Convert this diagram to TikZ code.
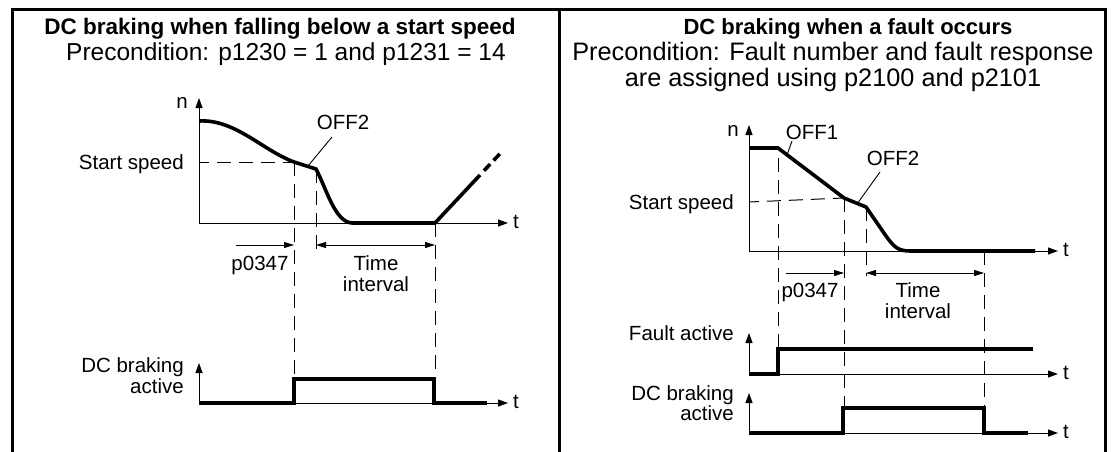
\documentclass[tikz,border=0pt]{standalone}
\usepackage{fontspec}
\setmainfont{Liberation Sans}
\usetikzlibrary{arrows.meta}
\begin{document}
\begin{tikzpicture}[x=1pt,y=-1pt,
  frame/.style={line width=2.2pt},
  axis/.style={line width=1pt, -{Triangle[length=10pt,width=7pt]}},
  sig/.style={line width=3.6pt, line join=miter},
  guide/.style={line width=1pt, dash pattern=on 14pt off 8pt},
  dim/.style={line width=1pt, -{Triangle[length=10pt,width=6pt]}},
  dimboth/.style={line width=1pt, {Triangle[length=10pt,width=6pt]}-{Triangle[length=10pt,width=6pt]}},
  lbl/.style={inner sep=0pt, font=\fontsize{20.5}{23}\selectfont},
  ttlL/.style={inner sep=0pt, font=\fontsize{22.5}{26}\selectfont\bfseries},
  ttlR/.style={inner sep=0pt, font=\fontsize{22}{26}\selectfont\bfseries},
  subL/.style={inner sep=0pt, font=\fontsize{24.5}{28}\selectfont},
  subR/.style={inner sep=0pt, font=\fontsize{25.3}{29}\selectfont},
  leader/.style={line width=0.9pt},
]
\useasboundingbox (0,0) rectangle (1111,452);
% frame
\coordinate (FLb) at (12.5,452); \coordinate (FLt) at (12.5,9.5);
\coordinate (FRt) at (1105.5,9.5); \coordinate (FRb) at (1105.5,452);
\coordinate (FMt) at (559.5,9.5); \coordinate (FMb) at (559.5,452);
\draw[frame] (FLb) -- (FLt) -- (FRt) -- (FRb);
\draw[frame] (FMt) -- (FMb);

% titles
\node[ttlL, anchor=base] (titleL) at (280,35) {DC braking when falling below a start speed};
\node[subL, anchor=base] (subL) at (286,61) {Precondition: p1230 = 1 and p1231 = 14};
\node[ttlR, anchor=base] (titleR) at (848,35) {DC braking when a fault occurs};
\node[subR, anchor=base] (subR1) at (833,61) {Precondition: Fault number and fault response};
\node[subR, anchor=base] (subR2) at (833,86) {are assigned using p2100 and p2101};

% ================= LEFT PANEL =================
\coordinate (LO) at (199,223); \coordinate (LN) at (199,98); \coordinate (LT) at (508,223);
\coordinate (LSs) at (199,162);
\coordinate (LA) at (294,162); \coordinate (LB) at (316,169);
\coordinate (LC) at (352,223); \coordinate (LD) at (435,223); \coordinate (LE) at (480,175);
\coordinate (LF) at (484,170.7); \coordinate (LG) at (502,151.5);
\coordinate (LAd) at (294,379); \coordinate (LBd) at (316,250); \coordinate (LDd) at (435,379);
\coordinate (LPs) at (236,245); \coordinate (LPe) at (294,245);
\coordinate (LIs) at (316,245); \coordinate (LIe) at (435,245);
\coordinate (LO2) at (199,403); \coordinate (LN2) at (199,363); \coordinate (LT2) at (508,403);
\coordinate (LP1) at (294,403); \coordinate (LP2) at (294,379); \coordinate (LP3) at (434,379);
\coordinate (LP4) at (434,403); \coordinate (LP5) at (487,403);

\draw[axis] (LO) -- (LN);
\draw[axis] (LO) -- (LT);
\draw[guide, dash phase=4pt] (LSs) -- (LA);
\draw[guide] (LA) -- (LAd);
\draw[guide] (LB) -- (LBd);
\draw[guide] (LD) -- (LDd);
\draw[sig] (199,121) .. controls (235,119) and (262,150) .. (LA) -- (LB)
  .. controls (327,190) and (335,222) .. (LC) -- (LD) -- (LE);
\draw[sig, dash pattern=on 9pt off 5pt] (LF) -- (LG);
\draw[dim] (LPs) -- (LPe);
\draw[dimboth] (LIs) -- (LIe);
\draw[axis] (LO2) -- (LN2);
\draw[axis] (LO2) -- (LT2);
\draw[sig] (LO2) -- (LP1) -- (LP2) -- (LP3) -- (LP4) -- (LP5);

\node[lbl, anchor=base] (nL) at (182,108) {n};
\node[lbl, anchor=west] (tL) at (513,222) {t};
\node[lbl, anchor=base east] (ssL) at (184,169) {Start speed};
\node[lbl, anchor=base] (offL) at (343,129) {OFF2};
\coordinate (offLa) at (332,137); \coordinate (offLb) at (308,166);
\draw[leader] (offLa) -- (offLb);
\node[lbl, anchor=base] (pL) at (260,270) {p0347};
\node[lbl, anchor=base] (tiL) at (376,270) {Time};
\node[lbl, anchor=base] (inL) at (376,291) {interval};
\node[lbl, anchor=base east] (dcL1) at (184,372) {DC braking};
\node[lbl, anchor=base east] (dcL2) at (184,393) {active};
\node[lbl, anchor=west] (tL2) at (513,402) {t};

% ================= RIGHT PANEL =================
\coordinate (RO) at (749,251); \coordinate (RN) at (749,125); \coordinate (RT) at (1058,251);
\coordinate (RSs) at (749,202);
\coordinate (R0) at (749,148); \coordinate (R1) at (778,148); \coordinate (R2) at (844,198);
\coordinate (R3) at (866,207); \coordinate (R4) at (886,236); \coordinate (R5) at (910,251);
\coordinate (R6) at (1035,251);
\coordinate (R1t) at (778,158); \coordinate (R1d) at (778,349);
\coordinate (R2d) at (844,408); \coordinate (R3d) at (866,276);
\coordinate (R7) at (984,251); \coordinate (R7d) at (984,408);
\coordinate (RPs) at (786,273); \coordinate (RPe) at (844,273);
\coordinate (RIs) at (866,273); \coordinate (RIe) at (984,273);
\coordinate (RFO) at (749,374); \coordinate (RFN) at (749,333); \coordinate (RFT) at (1058,374);
\coordinate (RF1) at (778,374); \coordinate (RF2) at (778,349); \coordinate (RF3) at (1033,349);
\coordinate (RDO) at (749,433); \coordinate (RDN) at (749,393); \coordinate (RDT) at (1058,433);
\coordinate (RD1) at (843,433); \coordinate (RD2) at (843,408); \coordinate (RD3) at (984,408);
\coordinate (RD4) at (984,433); \coordinate (RD5) at (1028,433);

\draw[axis] (RO) -- (RN);
\draw[axis] (RO) -- (RT);
\draw[guide, dash phase=4pt] (RSs) -- (R2);
\draw[guide] (R1t) -- (R1d);
\draw[guide] (R2) -- (R2d);
\draw[guide] (R3) -- (R3d);
\draw[guide] (R7) -- (R7d);
\draw[sig] (R0) -- (R1) -- (R2) -- (R3) -- (R4)
  .. controls (894,247) and (898,251) .. (R5) -- (R6);
\draw[dim] (RPs) -- (RPe);
\draw[dimboth] (RIs) -- (RIe);
\draw[axis] (RFO) -- (RFN);
\draw[axis] (RFO) -- (RFT);
\draw[sig] (RFO) -- (RF1) -- (RF2) -- (RF3);
\draw[axis] (RDO) -- (RDN);
\draw[axis] (RDO) -- (RDT);
\draw[sig] (RDO) -- (RD1) -- (RD2) -- (RD3) -- (RD4) -- (RD5);

\node[lbl, anchor=base] (nR) at (733,136) {n};
\node[lbl, anchor=west] (tR) at (1063,250) {t};
\node[lbl, anchor=base east] (ssR) at (734,209) {Start speed};
\node[lbl, anchor=base] (off1R) at (812,139) {OFF1};
\coordinate (off1a) at (792,141); \coordinate (off1b) at (787,155);
\draw[leader] (off1a) -- (off1b);
\node[lbl, anchor=base] (off2R) at (893,165) {OFF2};
\coordinate (off2a) at (880,172); \coordinate (off2b) at (857,204);
\draw[leader] (off2a) -- (off2b);
\node[lbl, anchor=base] (pR) at (810,297) {p0347};
\node[lbl, anchor=base] (tiR) at (918,297) {Time};
\node[lbl, anchor=base] (inR) at (918,318) {interval};
\node[lbl, anchor=base east] (faR) at (734,340) {Fault active};
\node[lbl, anchor=west] (tR2) at (1063,373) {t};
\node[lbl, anchor=base east] (dcR1) at (734,400) {DC braking};
\node[lbl, anchor=base east] (dcR2) at (734,420) {active};
\node[lbl, anchor=west] (tR3) at (1063,432) {t};
\end{tikzpicture}
\end{document}
